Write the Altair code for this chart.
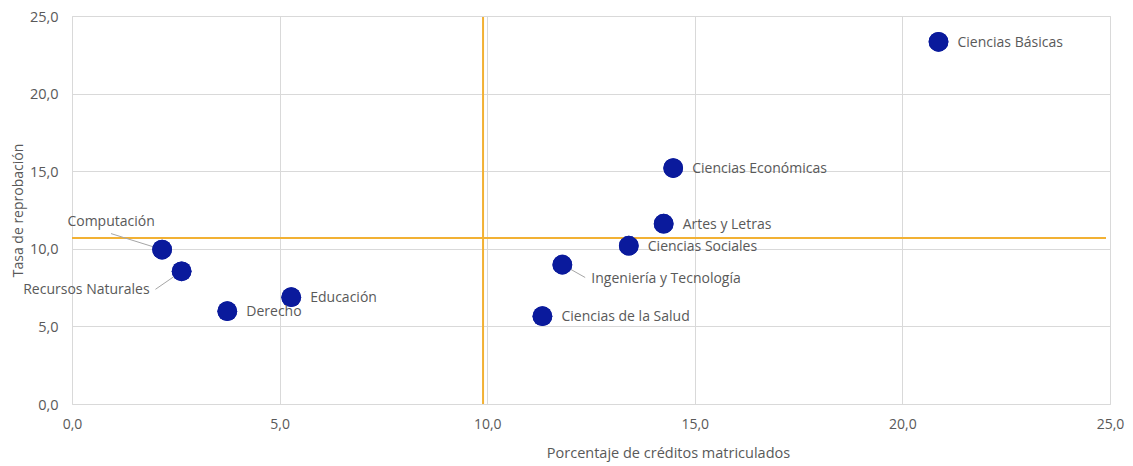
import altair as alt
import pandas as pd

# ---- data ----
areas = ["Ciencias Básicas", "Ciencias Económicas", "Artes y Letras", "Ciencias Sociales",
         "Ingeniería y Tecnología", "Ciencias de la Salud", "Educación", "Derecho",
         "Recursos Naturales", "Computación"]
creditos = [20.87, 14.48, 14.25, 13.41, 11.81, 11.33, 5.28, 3.74, 2.64, 2.17]
reprobacion = [23.34, 15.20, 11.62, 10.20, 8.98, 5.66, 6.88, 5.98, 8.55, 9.95]
promedio_creditos = [9.9]
promedio_reprobacion = [10.7]
ticks = [0, 5, 10, 15, 20, 25]

FONT = "Open Sans"
TXT = "#595959"
BLUE = "#0A1A9C"
ORANGE = "#F2B134"
GRID = "#D9D9D9"
LEADER = "#A6A6A6"

W, H = 1038, 388

df = pd.DataFrame({"area": areas, "creditos": creditos, "reprobacion": reprobacion})
fmt = "replace(format(datum.value, '.1f'), '.', ',')"

xs = alt.Scale(domain=[0, 25], nice=False, zero=True)
ys = alt.Scale(domain=[0, 25], nice=False, zero=True)

x_enc = alt.X("creditos:Q", scale=xs, axis=alt.Axis(
    title="Porcentaje de créditos matriculados", values=ticks, labelExpr=fmt,
    grid=True, gridColor=GRID, domain=False, ticks=False, labelPadding=13,
    labelFontSize=14, titleFontSize=14.5, labelColor=TXT, titleColor=TXT,
    labelFont=FONT, titleFont=FONT, titleFontWeight="normal", labelFlush=False,
    titleX=596, titleY=49, titleBaseline="middle", titleAlign="center"))
y_enc = alt.Y("reprobacion:Q", scale=ys, axis=alt.Axis(
    title="Tasa de reprobación", values=ticks, labelExpr=fmt,
    grid=True, gridColor=GRID, domain=False, ticks=False, labelPadding=14,
    labelFontSize=14.5, titleFontSize=14, labelColor=TXT, titleColor=TXT,
    labelFont=FONT, titleFont=FONT, titleFontWeight="normal", labelFlush=False,
    labelOffset=1,
    titleX=-54, titleY=H / 2, titleBaseline="middle", titleAlign="center", titleAngle=270))

base = alt.Chart(df)

vline = alt.Chart(pd.DataFrame({"v": promedio_creditos})).mark_rule(
    color=ORANGE, strokeWidth=2).encode(
    x=alt.X("v:Q", scale=xs), y=alt.value(1), y2=alt.value(H))
hline = alt.Chart(pd.DataFrame({"h": promedio_reprobacion})).mark_rule(
    color=ORANGE, strokeWidth=2).encode(
    y=alt.Y("h:Q", scale=ys), x=alt.value(0), x2=alt.value(W - 4))


def leader(name, ddx, ddy):
    return base.transform_filter(alt.datum.area == name).transform_calculate(
        ex=f"datum.creditos + ({ddx})", ey=f"datum.reprobacion + ({ddy})"
    ).mark_rule(color=LEADER, strokeWidth=1).encode(
        x=alt.X("creditos:Q", scale=xs), y=alt.Y("reprobacion:Q", scale=ys),
        x2="ex:Q", y2="ey:Q")


leaders = [leader("Computación", -1.23, 1.03),
           leader("Recursos Naturales", -0.63, -1.16),
           leader("Ingeniería y Tecnología", 0.55, -0.83)]

points = base.mark_circle(size=390, color=BLUE, opacity=1).encode(x=x_enc, y=y_enc)

special = ["Computación", "Recursos Naturales", "Ingeniería y Tecnología"]


def label(filt, align, dx, dy):
    return base.transform_filter(filt).mark_text(
        align=align, baseline="middle", dx=dx, dy=dy, font=FONT, fontSize=14, color=TXT
    ).encode(x=alt.X("creditos:Q", scale=xs), y=alt.Y("reprobacion:Q", scale=ys), text="area:N")


labels = [
    label(~alt.FieldOneOfPredicate(field="area", oneOf=special), "left", 19, 1),
    label(alt.datum.area == "Computación", "center", -51, -28),
    label(alt.datum.area == "Recursos Naturales", "right", -32, 19),
    label(alt.datum.area == "Ingeniería y Tecnología", "left", 29, 14),
]

chart = alt.layer(points, vline, hline, *leaders, points, *labels).properties(
    width=W, height=H,
    autosize=alt.AutoSizeParams(type="none"),
    padding={"left": 64, "top": 8, "right": 15, "bottom": 60},
).configure_view(stroke=None).configure(background="white")

chart.save("out.html", embed_options={"renderer": "svg", "actions": False})
